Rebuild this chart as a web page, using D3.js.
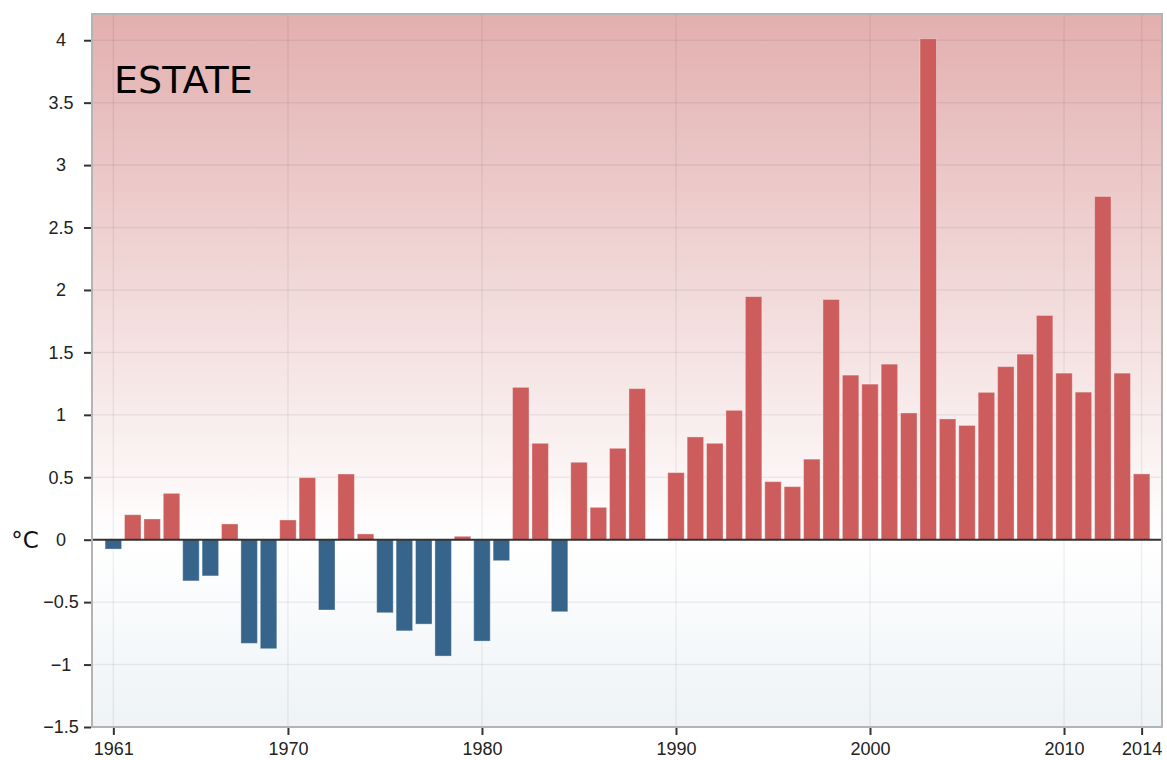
<!DOCTYPE html>
<html>
<head>
<meta charset="utf-8">
<script src="https://cdn.jsdelivr.net/npm/d3@7"></script>
<style>
  body { margin: 0; background: #fff; }
  svg { display: block; }
</style>
</head>
<body>
<div id="chart"></div>
<script>
const years = d3.range(1961, 2015);
const anomalies = [
  -0.075, 0.2, 0.166, 0.371, -0.33, -0.29, 0.126, -0.83, -0.873, 0.158,
  0.497, -0.563, 0.526, 0.046, -0.585, -0.73, -0.676, -0.932, 0.027, -0.812,
  -0.168, 1.22, 0.772, -0.577, 0.62, 0.259, 0.732, 1.21, 0, 0.537,
  0.823, 0.772, 1.036, 1.947, 0.465, 0.425, 0.645, 1.924, 1.318, 1.246,
  1.406, 1.015, 4.012, 0.967, 0.915, 1.18, 1.386, 1.486, 1.796, 1.334,
  1.182, 2.749, 1.334, 0.527
];
const yTicks = [-1.5, -1, -0.5, 0, 0.5, 1, 1.5, 2, 2.5, 3, 3.5, 4];
const xTicks = [1961, 1970, 1980, 1990, 2000, 2010, 2014];
const title = "ESTATE";
const unit = "°C";

const data = years.map((y, i) => ({ year: y, value: anomalies[i] }));

const width = 1167;
const height = 760;
const area = { left: 92, right: 1162, top: 14, bottom: 727 };

const svg = d3.select("#chart")
  .append("svg")
  .attr("width", width)
  .attr("height", height);

const xScale = d3.scaleLinear()
  .domain([1959.9, 2015.05])
  .range([area.left, area.right]);

const yScale = d3.scaleLinear()
  .domain([-1.5, 4.21])
  .range([area.bottom, area.top]);

// background gradient: red above zero, pale blue below
const defs = svg.append("defs");
const zeroFrac = (yScale(0) - area.top) / (area.bottom - area.top);
const grad = defs.append("linearGradient")
  .attr("id", "bg")
  .attr("x1", 0).attr("y1", 0).attr("x2", 0).attr("y2", 1);
grad.append("stop").attr("offset", 0).attr("stop-color", "#e3afaf");
grad.append("stop").attr("offset", zeroFrac).attr("stop-color", "#ffffff");
grad.append("stop").attr("offset", 1).attr("stop-color", "#eef3f6");

svg.append("rect")
  .attr("x", area.left)
  .attr("y", area.top)
  .attr("width", area.right - area.left)
  .attr("height", area.bottom - area.top)
  .attr("fill", "url(#bg)");

// grid
const grid = svg.append("g").attr("stroke", "rgba(0,0,0,0.06)").attr("stroke-width", 1.5);
grid.selectAll(".hy")
  .data(yTicks)
  .join("line")
  .attr("x1", area.left).attr("x2", area.right)
  .attr("y1", d => yScale(d)).attr("y2", d => yScale(d));
grid.selectAll(".vx")
  .data(xTicks)
  .join("line")
  .attr("y1", area.top).attr("y2", area.bottom)
  .attr("x1", d => xScale(d)).attr("x2", d => xScale(d));

// bars
const barW = (xScale(1) - xScale(0)) * 0.85;
svg.append("g")
  .selectAll("rect")
  .data(data.filter(d => d.value !== 0))
  .join("rect")
  .attr("x", d => xScale(d.year) - barW / 2)
  .attr("width", barW)
  .attr("y", d => yScale(Math.max(0, d.value)))
  .attr("height", d => Math.abs(yScale(d.value) - yScale(0)))
  .attr("fill", d => d.value > 0 ? "#cd5c5c" : "#36648b")
  .attr("stroke", "rgba(255,255,255,0.35)")
  .attr("stroke-width", 1);

// zero line
svg.append("line")
  .attr("x1", area.left).attr("x2", area.right)
  .attr("y1", yScale(0)).attr("y2", yScale(0))
  .attr("stroke", "#333")
  .attr("stroke-width", 2);

// frame
svg.append("rect")
  .attr("x", area.left)
  .attr("y", area.top)
  .attr("width", area.right - area.left)
  .attr("height", area.bottom - area.top)
  .attr("fill", "none")
  .attr("stroke", "#b4b4b4")
  .attr("stroke-width", 2);

// y axis
const yAxis = d3.axisLeft(yScale)
  .tickValues(yTicks)
  .tickSize(7)
  .tickFormat(d3.format("~g"));
const gy = svg.append("g")
  .attr("transform", `translate(${area.left - 1}, 0)`)
  .call(yAxis);
gy.select(".domain").remove();
gy.selectAll(".tick line").attr("stroke", "#333").attr("stroke-width", 2);
gy.selectAll(".tick text")
  .attr("x", -30)
  .attr("text-anchor", "middle")
  .attr("fill", "#222")
  .style("font-family", "'Liberation Sans', Arial, sans-serif")
  .style("font-size", "18px");

// x axis
const xAxis = d3.axisBottom(xScale)
  .tickValues(xTicks)
  .tickSize(7)
  .tickFormat(d3.format("d"));
const gx = svg.append("g")
  .attr("transform", `translate(0, ${area.bottom + 1})`)
  .call(xAxis);
gx.select(".domain").remove();
gx.selectAll(".tick line").attr("stroke", "#333").attr("stroke-width", 2);
gx.selectAll(".tick text")
  .attr("y", 14)
  .attr("fill", "#222")
  .style("font-family", "'Liberation Sans', Arial, sans-serif")
  .style("font-size", "18px");

// unit label
svg.append("text")
  .attr("x", 25)
  .attr("y", yScale(0) + 8)
  .attr("text-anchor", "middle")
  .attr("fill", "#111")
  .style("font-family", "'DejaVu Sans', sans-serif")
  .style("font-size", "23px")
  .text(unit);

// title
svg.append("text")
  .attr("x", 114)
  .attr("y", 93)
  .attr("fill", "#000")
  .style("font-family", "'DejaVu Sans', sans-serif")
  .style("font-size", "38px")
  .text(title);
</script>
</body>
</html>
